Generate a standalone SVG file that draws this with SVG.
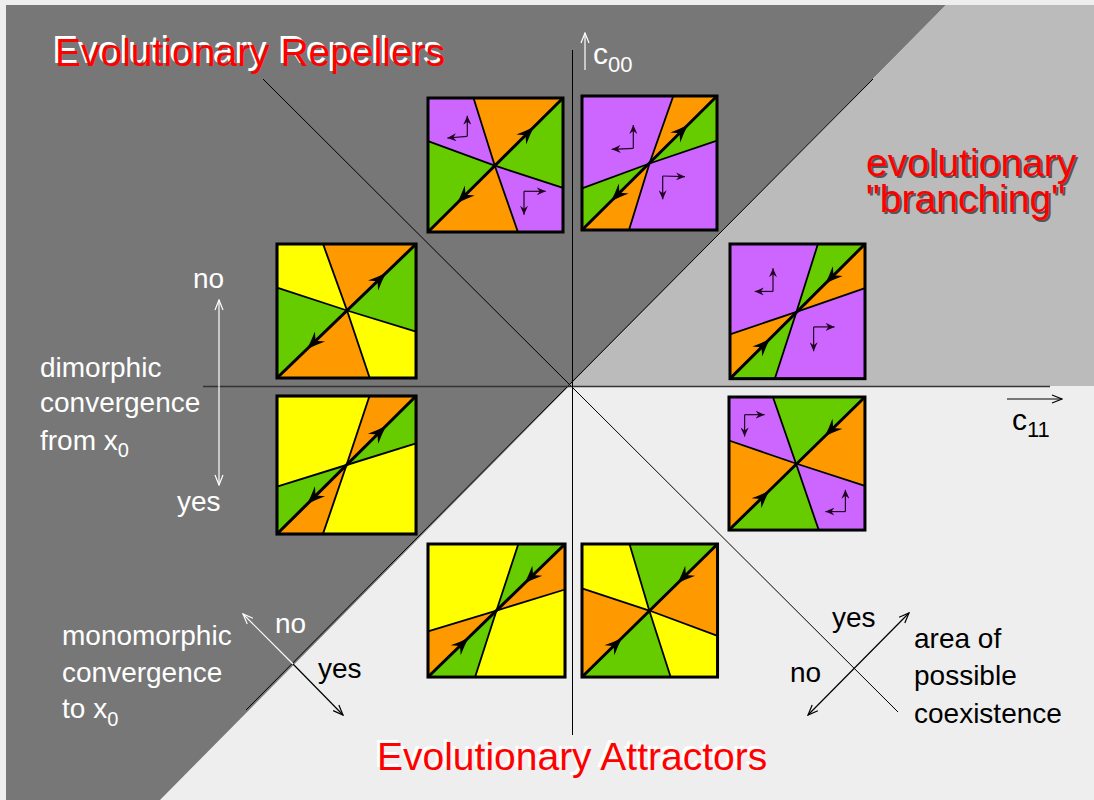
<svg xmlns="http://www.w3.org/2000/svg" xmlns:xlink="http://www.w3.org/1999/xlink" width="1094" height="800" viewBox="0 0 1094 800">
<style>
.p{fill:#cc66ff}.o{fill:#ff9900}.g{fill:#66cc00}.y{fill:#ffff00}
.ln{fill:none;stroke:#000;stroke-width:1.8}
.dg{stroke:#000;stroke-width:3}
.bd{fill:none;stroke:#000;stroke-width:3}
.sm{fill:none;stroke:#220022;stroke-width:1.2;marker-end:url(#sh)}
.t{font-family:"Liberation Sans",Arial,sans-serif}
.w{fill:#fff;font-size:28px}
.k{fill:#000;font-size:28px}
.ti{font-size:39px}
</style>
<defs>
<path id="ah" d="M0,0 Q-8,-2.5 -18,-7 L-12,0 L-18,7 Q-8,2.5 0,0Z" fill="#000"/>
<marker id="sh" viewBox="0 0 10 8" refX="9" refY="4" markerWidth="10" markerHeight="8" markerUnits="userSpaceOnUse" orient="auto"><path d="M0,0 L9,4 L0,8 L3,4Z" fill="#220022"/></marker>
<marker id="ow" viewBox="0 0 12 10" refX="11" refY="5" markerWidth="12" markerHeight="10" markerUnits="userSpaceOnUse" orient="auto-start-reverse"><path d="M1,1 L11,5 L1,9" fill="none" stroke="#fff" stroke-width="1.2"/></marker>
<marker id="ob" viewBox="0 0 12 10" refX="11" refY="5" markerWidth="12" markerHeight="10" markerUnits="userSpaceOnUse" orient="auto-start-reverse"><path d="M1,1 L11,5 L1,9" fill="none" stroke="#000" stroke-width="1.2"/></marker>
</defs>
<rect width="1094" height="800" fill="#eeeeee"/>
<polygon points="6,5 946,5 160,800 6,800" fill="#777777"/>
<polygon points="946,5 1094,5 1094,386 569.5,386" fill="#bbbbbb"/>

<g id="connectors">
<line x1="263" y1="79" x2="898" y2="712" stroke="#000" stroke-width="1"/>
<line x1="873" y1="79" x2="246" y2="710" stroke="#000" stroke-width="1"/>
<line x1="203" y1="386.5" x2="1050" y2="386.5" stroke="#333" stroke-width="1.5"/>
<line x1="572.5" y1="50" x2="572.5" y2="735" stroke="#000" stroke-width="1"/>
<line x1="585" y1="70" x2="585" y2="33" stroke="#fff" stroke-width="1.2" marker-end="url(#ow)"/>
<line x1="1007" y1="399" x2="1062" y2="399" stroke="#000" stroke-width="1.2" marker-end="url(#ob)"/>
<line x1="219" y1="300" x2="219" y2="485" stroke="#fff" stroke-width="1.2" marker-start="url(#ow)" marker-end="url(#ow)"/>
<line x1="293" y1="664" x2="243" y2="614" stroke="#fff" stroke-width="1.2" marker-end="url(#ow)"/>
<line x1="293" y1="664" x2="343" y2="715" stroke="#000" stroke-width="1.2" marker-end="url(#ob)"/>
<line x1="808" y1="715" x2="909" y2="613" stroke="#000" stroke-width="1.2" marker-start="url(#ob)" marker-end="url(#ob)"/>
</g>

<g id="sq1" transform="translate(428,98)">
<polygon class="p" points="0,0 45.5,0 66.8,67.7 0,43.2"/>
<polygon class="o" points="45.5,0 135,0 66.8,67.7"/>
<polygon class="g" points="135,0 135,89.8 66.8,67.7"/>
<polygon class="p" points="135,89.8 135,134 89.9,134 66.8,67.7"/>
<polygon class="o" points="89.9,134 0,134 66.8,67.7"/>
<polygon class="g" points="0,134 0,43.2 66.8,67.7"/>
<polyline class="ln" points="45.5,0 66.8,67.7 89.9,134"/>
<polyline class="ln" points="0,43.2 66.8,67.7 135,89.8"/>
<line class="dg" x1="0" y1="134" x2="135" y2="0"/>
<use xlink:href="#ah" transform="translate(106,28.8) rotate(-45)"/>
<use xlink:href="#ah" transform="translate(29,105.2) rotate(135)"/>
<line class="sm" x1="39.3" y1="38.3" x2="39.3" y2="17.7"/>
<line class="sm" x1="39.3" y1="38.3" x2="19.3" y2="40"/>
<line class="sm" x1="96" y1="93.3" x2="117.7" y2="93.3"/>
<line class="sm" x1="96" y1="93.3" x2="96" y2="116.7"/>
<rect class="bd" x="0" y="0" width="135" height="134"/>
</g>

<g id="sq2" transform="translate(582,96)">
<polygon class="p" points="0,0 91.3,0 67.5,67.5 0,92.3"/>
<polygon class="o" points="91.3,0 135,0 67.5,67.5"/>
<polygon class="g" points="135,0 135,44.7 67.5,67.5"/>
<polygon class="p" points="135,44.7 135,134 47,134 67.5,67.5"/>
<polygon class="o" points="47,134 0,134 67.5,67.5"/>
<polygon class="g" points="0,134 0,92.3 67.5,67.5"/>
<polyline class="ln" points="91.3,0 67.5,67.5 47,134"/>
<polyline class="ln" points="0,92.3 67.5,67.5 135,44.7"/>
<line class="dg" x1="0" y1="134" x2="135" y2="0"/>
<use xlink:href="#ah" transform="translate(106,28.8) rotate(-45)"/>
<use xlink:href="#ah" transform="translate(29,105.2) rotate(135)"/>
<line class="sm" x1="51.3" y1="52.3" x2="51.3" y2="29"/>
<line class="sm" x1="51.3" y1="52.3" x2="29.7" y2="53.3"/>
<line class="sm" x1="80.7" y1="80" x2="103" y2="80.7"/>
<line class="sm" x1="80.7" y1="80" x2="80.7" y2="103.3"/>
<rect class="bd" x="0" y="0" width="135" height="134"/>
</g>

<g id="sq3" transform="translate(277,244) scale(1.03,1)">
<polygon class="y" points="0,0 44.7,0 68,66.5 0,43.7"/>
<polygon class="o" points="44.7,0 135,0 68,66.5"/>
<polygon class="g" points="135,0 135,87.6 68,66.5"/>
<polygon class="y" points="135,87.6 135,134 90,134 68,66.5"/>
<polygon class="o" points="90,134 0,134 68,66.5"/>
<polygon class="g" points="0,134 0,43.7 68,66.5"/>
<polyline class="ln" points="44.7,0 68,66.5 90,134"/>
<polyline class="ln" points="0,43.7 68,66.5 135,87.6"/>
<line class="dg" x1="0" y1="134" x2="135" y2="0"/>
<use xlink:href="#ah" transform="translate(106,28.8) rotate(-45)"/>
<use xlink:href="#ah" transform="translate(29,105.2) rotate(135)"/>
<rect class="bd" x="0" y="0" width="135" height="134"/>
</g>

<g id="sq4" transform="translate(277,396) scale(1.03,1.03)">
<polygon class="y" points="0,0 89.8,0 67.5,67 0,88"/>
<polygon class="o" points="89.8,0 135,0 67.5,67"/>
<polygon class="g" points="135,0 135,46 67.5,67"/>
<polygon class="y" points="135,46 135,134 44.6,134 67.5,67"/>
<polygon class="o" points="44.6,134 0,134 67.5,67"/>
<polygon class="g" points="0,134 0,88 67.5,67"/>
<polyline class="ln" points="89.8,0 67.5,67 44.6,134"/>
<polyline class="ln" points="0,88 67.5,67 135,46"/>
<line class="dg" x1="0" y1="134" x2="135" y2="0"/>
<use xlink:href="#ah" transform="translate(106,28.8) rotate(-45)"/>
<use xlink:href="#ah" transform="translate(29,105.2) rotate(135)"/>
<rect class="bd" x="0" y="0" width="135" height="134"/>
</g>

<g id="sq5" transform="translate(730,244) scale(1,1.005)">
<polygon class="p" points="0,0 87.9,0 66.5,67.5 0,90"/>
<polygon class="g" points="87.9,0 135,0 66.5,67.5"/>
<polygon class="o" points="135,0 135,44 66.5,67.5"/>
<polygon class="p" points="135,44 135,134 44.8,134 66.5,67.5"/>
<polygon class="g" points="44.8,134 0,134 66.5,67.5"/>
<polygon class="o" points="0,134 0,90 66.5,67.5"/>
<polyline class="ln" points="87.9,0 66.5,67.5 44.8,134"/>
<polyline class="ln" points="0,90 66.5,67.5 135,44"/>
<line class="dg" x1="0" y1="134" x2="135" y2="0"/>
<use xlink:href="#ah" transform="translate(95,39.7) rotate(135)"/>
<use xlink:href="#ah" transform="translate(40,94.3) rotate(-45)"/>
<line class="sm" x1="43" y1="47.2" x2="43" y2="24.1"/>
<line class="sm" x1="43" y1="47.2" x2="24.8" y2="47.2"/>
<line class="sm" x1="83.6" y1="82.5" x2="104.5" y2="82.5"/>
<line class="sm" x1="83.6" y1="82.5" x2="83.6" y2="106.7"/>
<rect class="bd" x="0" y="0" width="135" height="134"/>
</g>

<g id="sq6" transform="translate(729,397) scale(1.007,0.993)">
<polygon class="p" points="0,0 43.6,0 66.5,67 0,43.8"/>
<polygon class="g" points="43.6,0 135,0 66.5,67"/>
<polygon class="o" points="135,0 135,89.5 66.5,67"/>
<polygon class="p" points="135,89.5 135,134 89.1,134 66.5,67"/>
<polygon class="g" points="89.1,134 0,134 66.5,67"/>
<polygon class="o" points="0,134 0,43.8 66.5,67"/>
<polyline class="ln" points="43.6,0 66.5,67 89.1,134"/>
<polyline class="ln" points="0,43.8 66.5,67 135,89.5"/>
<line class="dg" x1="0" y1="134" x2="135" y2="0"/>
<use xlink:href="#ah" transform="translate(95,39.7) rotate(135)"/>
<use xlink:href="#ah" transform="translate(40,94.3) rotate(-45)"/>
<line class="sm" x1="15.5" y1="17.8" x2="35.4" y2="17.8"/>
<line class="sm" x1="15.5" y1="17.8" x2="15.5" y2="39.7"/>
<line class="sm" x1="115.6" y1="115.4" x2="115.6" y2="93.5"/>
<line class="sm" x1="115.6" y1="115.4" x2="95.7" y2="115.4"/>
<rect class="bd" x="0" y="0" width="135" height="134"/>
</g>

<g id="sq7" transform="translate(428,544) scale(1.015,0.993)">
<polygon class="y" points="0,0 89,0 67.5,67 0,87.9"/>
<polygon class="g" points="89,0 135,0 67.5,67"/>
<polygon class="o" points="135,0 135,45.8 67.5,67"/>
<polygon class="y" points="135,45.8 135,134 46.4,134 67.5,67"/>
<polygon class="g" points="46.4,134 0,134 67.5,67"/>
<polygon class="o" points="0,134 0,87.9 67.5,67"/>
<polyline class="ln" points="89,0 67.5,67 46.4,134"/>
<polyline class="ln" points="0,87.9 67.5,67 135,45.8"/>
<line class="dg" x1="0" y1="134" x2="135" y2="0"/>
<use xlink:href="#ah" transform="translate(95,39.7) rotate(135)"/>
<use xlink:href="#ah" transform="translate(40,94.3) rotate(-45)"/>
<rect class="bd" x="0" y="0" width="135" height="134"/>
</g>

<g id="sq8" transform="translate(582,544) scale(1.004,0.993)">
<polygon class="y" points="0,0 47.3,0 67,67 0,44.6"/>
<polygon class="g" points="47.3,0 135,0 67,67"/>
<polygon class="o" points="135,0 135,92.5 67,67"/>
<polygon class="y" points="135,92.5 135,134 88.3,134 67,67"/>
<polygon class="g" points="88.3,134 0,134 67,67"/>
<polygon class="o" points="0,134 0,44.6 67,67"/>
<polyline class="ln" points="47.3,0 67,67 88.3,134"/>
<polyline class="ln" points="0,44.6 67,67 135,92.5"/>
<line class="dg" x1="0" y1="134" x2="135" y2="0"/>
<use xlink:href="#ah" transform="translate(95,39.7) rotate(135)"/>
<use xlink:href="#ah" transform="translate(40,94.3) rotate(-45)"/>
<rect class="bd" x="0" y="0" width="135" height="134"/>
</g>

<g id="titles" class="t ti">
<text x="52" y="63" fill="#fff">Evolutionary Repellers</text>
<text x="55" y="66" fill="#ff0000">Evolutionary Repellers</text>
<text x="374" y="767" fill="#fff">Evolutionary Attractors</text>
<text x="377" y="770" fill="#ff0000">Evolutionary Attractors</text>
<text x="868" y="178" fill="#555">evolutionary</text>
<text x="866" y="176" fill="#ff0000">evolutionary</text>
<text x="868" y="214" fill="#555">"branching"</text>
<text x="866" y="212" fill="#ff0000">"branching"</text>
</g>

<g id="axis-labels" class="t">
<text x="593" y="64" fill="#fff" font-size="30">c<tspan font-size="22" dy="8">00</tspan></text>
<text x="1012" y="430" fill="#000" font-size="30">c<tspan font-size="22" dy="7">11</tspan></text>
</g>

<g id="dimorphic" class="t w">
<text x="193" y="288">no</text>
<text x="177" y="511">yes</text>
<text x="40" y="377">dimorphic</text>
<text x="40" y="412">convergence</text>
<text x="40" y="450">from x<tspan font-size="20" dy="7">0</tspan></text>
</g>

<g id="monomorphic" class="t">
<text class="w" x="62" y="645">monomorphic</text>
<text class="w" x="62" y="682">convergence</text>
<text class="w" x="62" y="718">to x<tspan font-size="20" dy="8">0</tspan></text>
<text class="w" x="275" y="633">no</text>
<text class="k" x="318" y="678">yes</text>
</g>

<g id="coexistence" class="t k">
<text x="832" y="627">yes</text>
<text x="790" y="682">no</text>
<text x="914" y="648">area of</text>
<text x="914" y="685">possible</text>
<text x="914" y="723">coexistence</text>
</g>
</svg>
